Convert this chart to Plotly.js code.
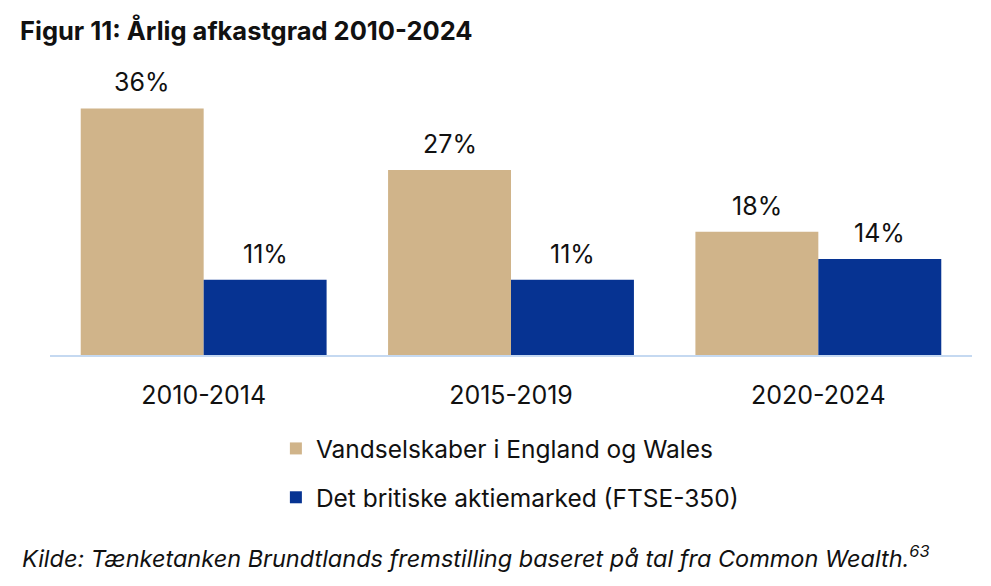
<!DOCTYPE html>
<html><head><meta charset="utf-8">
<script src="https://cdn.plot.ly/plotly-3.0.1.min.js"></script>
<style>html,body{margin:0;padding:0;background:#fff}#chart{width:991px;height:586px}</style>
</head><body><div id="chart"></div>
<script>
const categories = ["2010-2014", "2015-2019", "2020-2024"];
const seriesNames = ["Vandselskaber i England og Wales", "Det britiske aktiemarked (FTSE-350)"];
const waterValues = [36, 27, 18];
const marketValues = [11, 11, 14];
const titleText = "Figur 11: Årlig afkastgrad 2010-2024";
const sourceText = "Kilde: Tænketanken Brundtlands fremstilling baseret på tal fra Common Wealth.<sup>63</sup>";

const FONT = "Inter, 'Open Sans', sans-serif";
const W = 991, H = 586;
const M = {l: 50, r: 19, t: 81, b: 231};
const BARGAP = 0.2;
const plotW = W - M.l - M.r;
const barPx = plotW / categories.length * (1 - BARGAP) / 2;

const mk = (name, vals, color, grp) => ({
  type: "bar", name: name, x: categories, y: vals,
  marker: {color: color, line: {width: 0}},
  legendgroup: grp, hoverinfo: "skip"
});
const data = [
  mk(seriesNames[0], waterValues, "#D0B48A", "a"),
  mk(seriesNames[1], marketValues, "#063392", "b")
];
const labelAnn = [];
[waterValues, marketValues].forEach((vals, si) => {
  vals.forEach((v, i) => {
    labelAnn.push({x: categories[i], y: v, xref: "x", yref: "y", text: v + "%",
      showarrow: false, xshift: (si === 0 ? -1 : 1) * barPx / 2, yshift: 9,
      yanchor: "bottom", font: {family: FONT, size: 25, color: "#111"}});
  });
});
const layout = {
  width: W, height: H, margin: M,
  paper_bgcolor: "#fff", plot_bgcolor: "#fff",
  font: {family: FONT, color: "#111"},
  title: {text: "<b>" + titleText + "</b>", x: 20/W, xref: "container", xanchor: "left",
          y: 1 - 31/H, yref: "container", yanchor: "middle",
          font: {family: FONT, size: 25.5, color: "#111"}},
  barmode: "group", bargap: BARGAP, bargroupgap: 0,
  xaxis: {showline: true, linecolor: "#C5D9F1", linewidth: 2, ticks: "",
          tickfont: {family: FONT, size: 25, color: "#111"}, ticklabelstandoff: 17},
  yaxis: {range: [0, 40], visible: false, showgrid: false, zeroline: false},
  showlegend: true,
  legend: {orientation: "v", x: 0.245, xanchor: "left", y: -(426 - (H - M.b)) / (H - M.t - M.b), yref: "paper", yanchor: "top",
           font: {family: FONT, size: 24.5, color: "#111"}, traceorder: "grouped", tracegroupgap: 14,
           itemclick: false},
  annotations: labelAnn.concat([{text: "<i>" + sourceText + "</i>", xref: "paper", yref: "paper",
                 x: -30/plotW, xanchor: "left", y: -(557-(H - M.b))/(H - M.t - M.b), yanchor: "middle", showarrow: false,
                 font: {family: FONT, size: 23.5, color: "#111"}}])
};
Plotly.newPlot("chart", data, layout, {displayModeBar: false, staticPlot: true});
</script></body></html>
